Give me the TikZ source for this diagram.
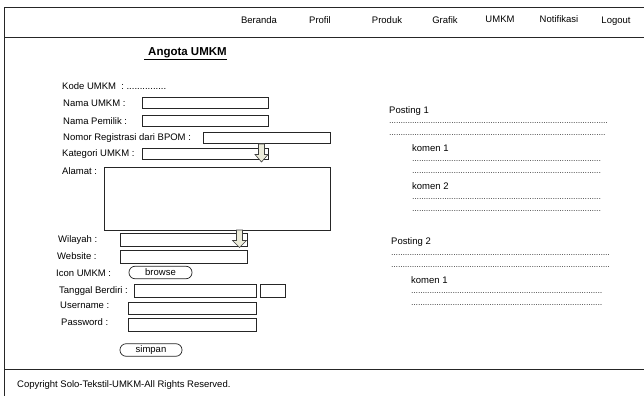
\documentclass[tikz,border=0pt]{standalone}
\usepackage{fontspec}
\setmainfont{Liberation Sans}
\newcommand{\dotrow}[1]{\hbox to #1pt{\leaders\hbox to 2.3pt{\hss.\hss}\hfill}}
\definecolor{arrowfill}{RGB}{236,236,218}
\begin{document}
\begin{tikzpicture}[x=1pt,y=-1pt,
  lbl/.style={anchor=west, inner sep=0pt, font=\fontsize{9.5}{11}\selectfont},
  nav/.style={inner sep=0pt, font=\fontsize{9.5}{11}\selectfont},
  dots/.style={anchor=west, inner sep=0pt, font=\fontsize{9}{10}\selectfont, text=black!75},
  fld/.style={draw=black!85, line width=0.7pt},
  btn/.style={draw=black!85, line width=0.7pt, rounded corners=6pt, inner sep=0pt, font=\fontsize{9.5}{11}\selectfont},
  frame/.style={draw=black!85, line width=0.8pt},
  arr/.style={draw=black!75, fill=arrowfill, line width=0.6pt, line join=miter}
]
\useasboundingbox (0,0) rectangle (644,398);
% frame
\draw[frame] (644,7) -- (4,7) -- (4,396);
\draw[frame] (4,37) -- (644,37);
\draw[frame] (4,369) -- (644,369);
% nav
\node[nav] (beranda) at (259,20) {Beranda};
\node[nav] (profil) at (320,20) {Profil};
\node[nav] (produk) at (387,20) {Produk};
\node[nav] (grafik) at (445,20) {Grafik};
\node[nav] (umkm) at (500,19) {UMKM};
\node[nav] (notif) at (559,19) {Notifikasi};
\node[nav] (logout) at (616,21) {Logout};
% title
\node[anchor=west, inner sep=0pt, font=\fontsize{11.5}{13}\bfseries] (title) at (148,53) {Angota UMKM};
\draw[line width=0.9pt] (144,59.5) -- (title.east |- 0,59.5);
% form labels
\node[lbl] (kode) at (62,86) {Kode UMKM\ \ : ...............};
\node[lbl] (nama) at (63,103) {Nama UMKM :};
\draw[fld] (142,97.5) rectangle (268,108);
\node[lbl] (pemilik) at (63,121) {Nama Pemilik :};
\draw[fld] (142,115.5) rectangle (268,126);
\node[lbl] (bpom) at (63,138) {Nomor Registrasi dari BPOM :};
\draw[fld] (203,132) rectangle (330,143.5);
\node[lbl] (kategori) at (62,154) {Kategori UMKM :};
\draw[fld] (142,148) rectangle (268,159.5);
\draw[arr] (258.5,144) -- (264.5,144) -- (264.5,154.5) -- (268,154.5) -- (261.5,162) -- (255,154.5) -- (258.5,154.5) -- cycle;
\node[lbl] (alamat) at (62,171) {Alamat :};
\draw[fld] (104,167) rectangle (330,230);
\node[lbl] (wilayah) at (58,240) {Wilayah :};
\draw[fld] (120,233.5) rectangle (247,246.5);
\draw[arr] (236.5,230) -- (242.5,230) -- (242.5,240.5) -- (246.5,240.5) -- (239.5,247.5) -- (232.5,240.5) -- (236.5,240.5) -- cycle;
\node[lbl] (website) at (57,256) {Website :};
\draw[fld] (120,250.5) rectangle (247,263);
\node[lbl] (icon) at (56,273) {Icon UMKM :};
\node[btn, minimum width=63pt, minimum height=12.5pt] (browse) at (160.5,272.5) {browse};
\node[lbl] (tanggal) at (59,291) {Tanggal Berdiri :};
\draw[fld] (134,284.5) rectangle (256,297);
\draw[fld] (260,284.5) rectangle (285,297);
\node[lbl] (user) at (60,305) {Username :};
\draw[fld] (128,302) rectangle (256,314.5);
\node[lbl] (pass) at (61,322) {Password :};
\draw[fld] (128,318.5) rectangle (256,331);
\node[btn, minimum width=62pt, minimum height=12.5pt] (simpan) at (151,350) {simpan};
% footer
\node[lbl] (copy) at (17,385) {Copyright Solo-Tekstil-UMKM-All Rights Reserved.};
% postings
\node[lbl] (p1) at (389,111) {Posting 1};
\node[dots] (p1a) at (389,123) {\dotrow{219}};
\node[dots] (p1b) at (389,135) {\dotrow{218}};
\node[lbl] (k11) at (412,148) {komen 1};
\node[dots] (k11a) at (412,161) {\dotrow{190}};
\node[dots] (k11b) at (412,173) {\dotrow{190}};
\node[lbl] (k12) at (412,186) {komen 2};
\node[dots] (k12a) at (412,199) {\dotrow{190}};
\node[dots] (k12b) at (412,211) {\dotrow{190}};
\node[lbl] (p2) at (391,242) {Posting 2};
\node[dots] (p2a) at (391,255) {\dotrow{219}};
\node[dots] (p2b) at (391,267) {\dotrow{220}};
\node[lbl] (k21) at (411,280) {komen 1};
\node[dots] (k21a) at (411,293) {\dotrow{191}};
\node[dots] (k21b) at (411,305) {\dotrow{191}};
\end{tikzpicture}
\end{document}
